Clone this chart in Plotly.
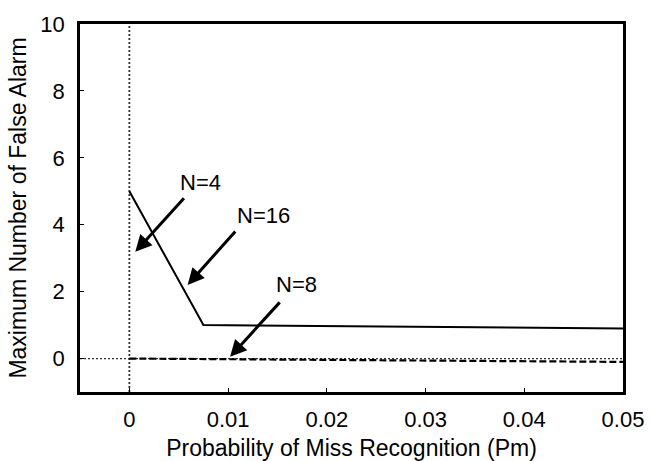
import plotly.graph_objects as go

# Data
n4_x = [0.0, 0.0]
n4_y = [-1.0, 10.0]
n8_x = [0.0, 0.05]
n8_y = [0.0, -0.1]
n16_x = [0.0, 0.0075, 0.05]
n16_y = [5.0, 1.0, 0.9]

x_ticks = [0, 0.01, 0.02, 0.03, 0.04, 0.05]
x_tick_text = ["0", "0.01", "0.02", "0.03", "0.04", "0.05"]
y_ticks = [0, 2, 4, 6, 8, 10]

labels = ["N=4", "N=16", "N=8"]
# arrow heads (data coords) and text positions (data coords)
arrow_heads = [(0.0006, 3.19), (0.0059, 2.2), (0.0102, 0.05)]
arrow_tails_px = [(50, -55), (49, -55), (51, -56)]
text_pos = [(0.0072, 5.25), (0.0136, 4.29), (0.0169, 2.2)]

FONT = "Liberation Sans, Arial, Helvetica, sans-serif"

fig = go.Figure()

# zero line for y=0 (dotted), drawn across the whole x range
fig.add_shape(type="line", xref="paper", x0=0, x1=1, yref="y", y0=0, y1=0,
              line=dict(color="#333", width=1.3, dash="2px,2px"), layer="below")

fig.add_trace(go.Scatter(x=n4_x, y=n4_y, mode="lines", name="N=4",
                         line=dict(color="#333", width=1.8, dash="2px,2px")))
fig.add_trace(go.Scatter(x=n8_x, y=n8_y, mode="lines", name="N=8",
                         line=dict(color="black", width=2.2, dash="7px,3px")))
fig.add_trace(go.Scatter(x=n16_x, y=n16_y, mode="lines", name="N=16",
                         line=dict(color="black", width=2)))

for lab, (hx, hy), (ax, ay), (tx, ty) in zip(labels, arrow_heads, arrow_tails_px, text_pos):
    fig.add_annotation(x=hx, y=hy, ax=ax, ay=ay, text="", showarrow=True,
                       arrowhead=2, arrowsize=1.1, arrowwidth=3, arrowcolor="black")
    fig.add_annotation(x=tx, y=ty, text=lab, showarrow=False,
                       font=dict(family=FONT, size=22, color="black"))

fig.update_layout(
    width=652, height=461,
    margin=dict(l=80, r=29, t=24, b=69),
    paper_bgcolor="white", plot_bgcolor="white",
    showlegend=False,
    font=dict(family=FONT, size=22, color="black"),
)
fig.update_xaxes(range=[-0.005, 0.05], tickvals=x_ticks, ticktext=x_tick_text,
                 showgrid=False, zeroline=False, showline=True, mirror=True,
                 linecolor="black", linewidth=2.5, ticks="inside", ticklen=4,
                 tickcolor="black", ticklabelstandoff=6, automargin=False,
                 title=dict(text="Probability of Miss Recognition (Pm)", standoff=10,
                            font=dict(size=23)))
fig.update_yaxes(range=[-1, 10], tickvals=y_ticks,
                 showgrid=False, zeroline=False, showline=True, mirror=True,
                 linecolor="black", linewidth=2.5, ticks="inside", ticklen=4,
                 tickcolor="black", ticklabelstandoff=8, automargin=False,
                 title=dict(text="Maximum Number of False Alarm", standoff=8,
                            font=dict(size=23)))

fig.write_html("out.html")
